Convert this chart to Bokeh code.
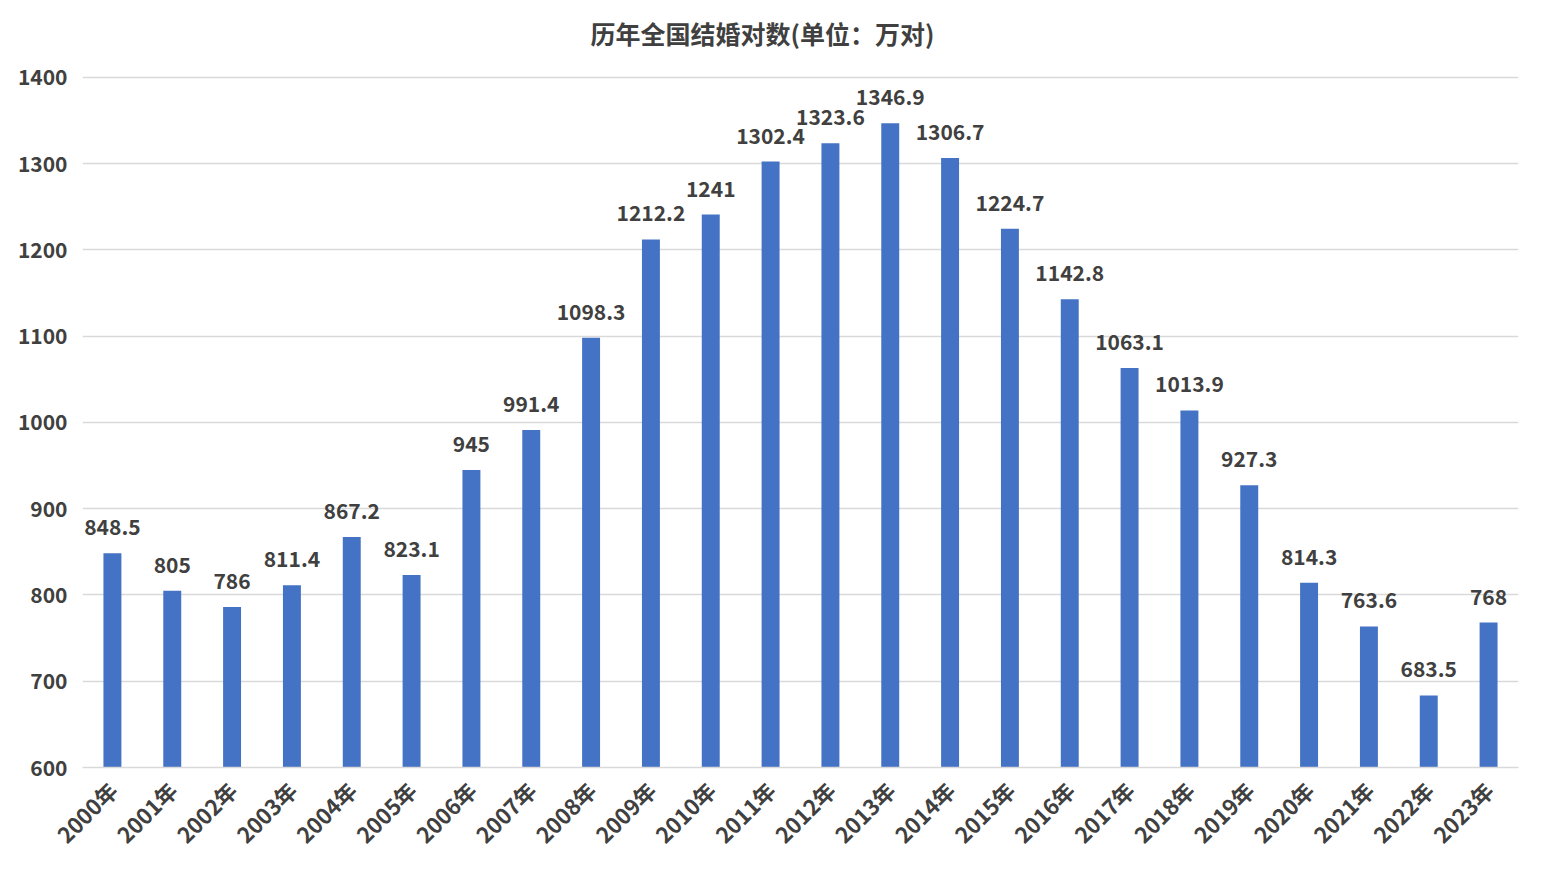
import math
from bokeh.plotting import figure
from bokeh.models import ColumnDataSource, FixedTicker, Label, LabelSet
from bokeh.core.properties import value
from bokeh.embed import file_html
from bokeh.resources import INLINE

years = ["2000年", "2001年", "2002年", "2003年", "2004年", "2005年", "2006年", "2007年",
         "2008年", "2009年", "2010年", "2011年", "2012年", "2013年", "2014年", "2015年",
         "2016年", "2017年", "2018年", "2019年", "2020年", "2021年", "2022年", "2023年"]
values = [848.5, 805, 786, 811.4, 867.2, 823.1, 945, 991.4, 1098.3, 1212.2, 1241, 1302.4,
          1323.6, 1346.9, 1306.7, 1224.7, 1142.8, 1063.1, 1013.9, 927.3, 814.3, 763.6, 683.5, 768]
y_ticks = [600, 700, 800, 900, 1000, 1100, 1200, 1300, 1400]
title_text = "历年全国结婚对数(单位：万对)"

FONT = "Noto Sans CJK SC"
TXT = "#404040"
BAR = "#4472C4"
GRID = "#d9d9d9"

# pixel layout: 1400 gridline at 77px, 600 at 768px from the top
PX_PER_UNIT = (768 - 77) / 800.0
FRAME_TOP = 20
Y_END = 1400 + (77 - FRAME_TOP) / PX_PER_UNIT

src = ColumnDataSource(dict(x=years, top=values, label=[f"{v:g}" for v in values]))

p = figure(x_range=years, y_range=(600, Y_END), width=1526, height=863,
           output_backend="svg", toolbar_location=None,
           min_border_left=82, min_border_right=8, min_border_top=FRAME_TOP, min_border_bottom=95)
p.title = None

title_label = Label(x=(590 - 82) / ((1518 - 82) / 24.0), y=1400 + (77 - 33) / PX_PER_UNIT,
                    text=title_text, text_align="left", text_baseline="middle",
                    text_font=FONT, text_font_size="25px", text_font_style="bold",
                    text_color=TXT)
p.add_layout(title_label)

p.vbar(x="x", top="top", bottom=600, width=0.3, fill_color=BAR, line_color=None, source=src)

labels = LabelSet(x="x", y="top", text="label", source=src, text_align="center",
                  text_baseline="alphabetic", y_offset=18, text_font=value(FONT),
                  text_font_size=value("21px"), text_font_style=value("bold"),
                  text_color=value(TXT))
p.add_layout(labels)

p.outline_line_color = None
p.xgrid.grid_line_color = None
p.ygrid.grid_line_color = GRID
p.ygrid.grid_line_width = 1.5

p.yaxis.ticker = FixedTicker(ticks=y_ticks)
p.yaxis.axis_line_color = None
p.yaxis.major_tick_line_color = None
p.yaxis.minor_tick_line_color = None
p.yaxis.major_label_standoff = 9
p.yaxis.major_label_text_font = FONT
p.yaxis.major_label_text_font_size = "21px"
p.yaxis.major_label_text_font_style = "bold"
p.yaxis.major_label_text_color = TXT

p.xaxis.axis_line_color = GRID
p.xaxis.axis_line_width = 1.5
p.xaxis.major_tick_line_color = None
p.xaxis.minor_tick_line_color = None
p.xaxis.major_label_orientation = math.pi / 4
p.xaxis.major_label_standoff = 12
p.xaxis.major_label_text_font = FONT
p.xaxis.major_label_text_font_size = "22px"
p.xaxis.major_label_text_font_style = "bold"
p.xaxis.major_label_text_color = TXT
p.x_range.range_padding = 0

open("out.html", "w").write(file_html(p, INLINE))
